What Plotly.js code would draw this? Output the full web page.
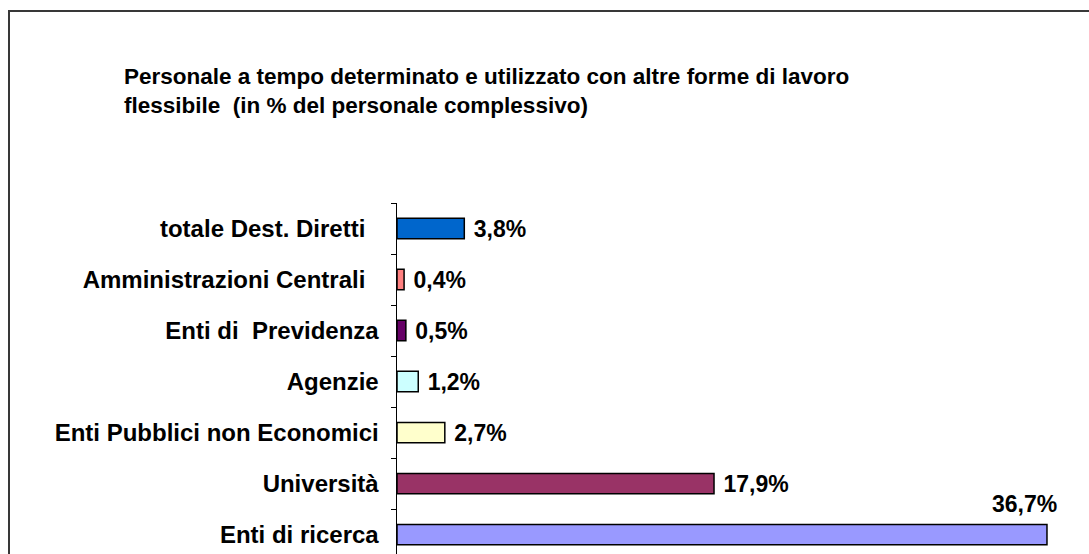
<!DOCTYPE html>
<html>
<head>
<meta charset="utf-8">
<script src="https://cdn.plot.ly/plotly-3.0.1.min.js"></script>
<style>
  html, body { margin: 0; padding: 0; background: #fff; overflow: hidden; }
  #wrap { position: relative; width: 1089px; height: 554px; }
  #chart { position: absolute; left: 0; top: 0; width: 1089px; height: 554px; }
  #frame { position: absolute; left: 8px; top: 10px; width: 1200px; height: 700px;
           border-left: 2px solid #383838; border-top: 2px solid #383838; pointer-events: none; }
</style>
</head>
<body>
<div id="wrap">
  <div id="chart"></div>
  <div id="frame"></div>
</div>
<script>
// Data (top to bottom as displayed)
const categories = [
  'totale Dest. Diretti\u00a0\u00a0',
  'Amministrazioni Centrali\u00a0\u00a0',
  'Enti di\u00a0 Previdenza',
  'Agenzie',
  'Enti Pubblici non Economici',
  'Università',
  'Enti di ricerca'
];
const values = [3.8, 0.4, 0.5, 1.2, 2.7, 17.9, 36.7];
const barColors = ['#0066CC', '#FF8080', '#660066', '#CCFFFF', '#FFFFCC', '#993366', '#9999FF'];
const titleText = 'Personale a tempo determinato e utilizzato con altre forme di lavoro<br>flessibile \u00a0(in % del personale complessivo)';

const FONT = '"Liberation Sans", Arial, Helvetica, sans-serif';
const fmt = v => v.toFixed(1).replace('.', ',') + '%';

const lastIdx = values.length - 1;
const textpos = values.map((v, i) => i === lastIdx ? 'none' : 'outside');

const trace = {
  type: 'bar',
  orientation: 'h',
  y: categories,
  x: values,
  width: 0.4,
  marker: { color: barColors, line: { color: '#000', width: 1.5 } },
  text: values.map(v => '\u00a0' + fmt(v)),
  texttemplate: '%{text}',
  textposition: textpos,
  constraintext: 'none',
  textfont: { family: FONT, size: 23, color: '#000', weight: 'bold' },
  cliponaxis: false,
  hoverinfo: 'none'
};

const layout = {
  width: 1089,
  height: 554,
  margin: { l: 397, r: 19, t: 203, b: 0, pad: 0 },
  paper_bgcolor: '#fff',
  plot_bgcolor: '#fff',
  showlegend: false,
  font: { family: FONT, color: '#000' },
  title: {
    text: titleText,
    font: { family: FONT, size: 22.5, color: '#000', weight: 'bold' },
    xref: 'container', yref: 'container',
    x: 124 / 1089, xanchor: 'left',
    y: 1 - 84 / 554, yanchor: 'top'
  },
  xaxis: {
    range: [0, 38],
    visible: false,
    showgrid: false,
    zeroline: false
  },
  yaxis: {
    type: 'category',
    categoryorder: 'array',
    categoryarray: categories,
    range: [6.38, -0.5],
    showline: true,
    linecolor: '#000',
    linewidth: 1.5,
    ticks: 'outside',
    tickson: 'boundaries',
    ticklen: 5,
    tickcolor: '#000',
    tickwidth: 1,
    ticklabelstandoff: 12,
    showgrid: false,
    zeroline: false,
    tickfont: { family: FONT, size: 24, color: '#000', weight: 'bold' }
  },
  annotations: [{
    x: values[lastIdx],
    y: categories[lastIdx],
    xref: 'x', yref: 'y',
    text: fmt(values[lastIdx]),
    showarrow: false,
    xanchor: 'right',
    yanchor: 'middle',
    xshift: 12,
    yshift: 31,
    font: { family: FONT, size: 23, color: '#000', weight: 'bold' }
  }]
};

Plotly.newPlot('chart', [trace], layout, { staticPlot: true, displayModeBar: false });
</script>
</body>
</html>
